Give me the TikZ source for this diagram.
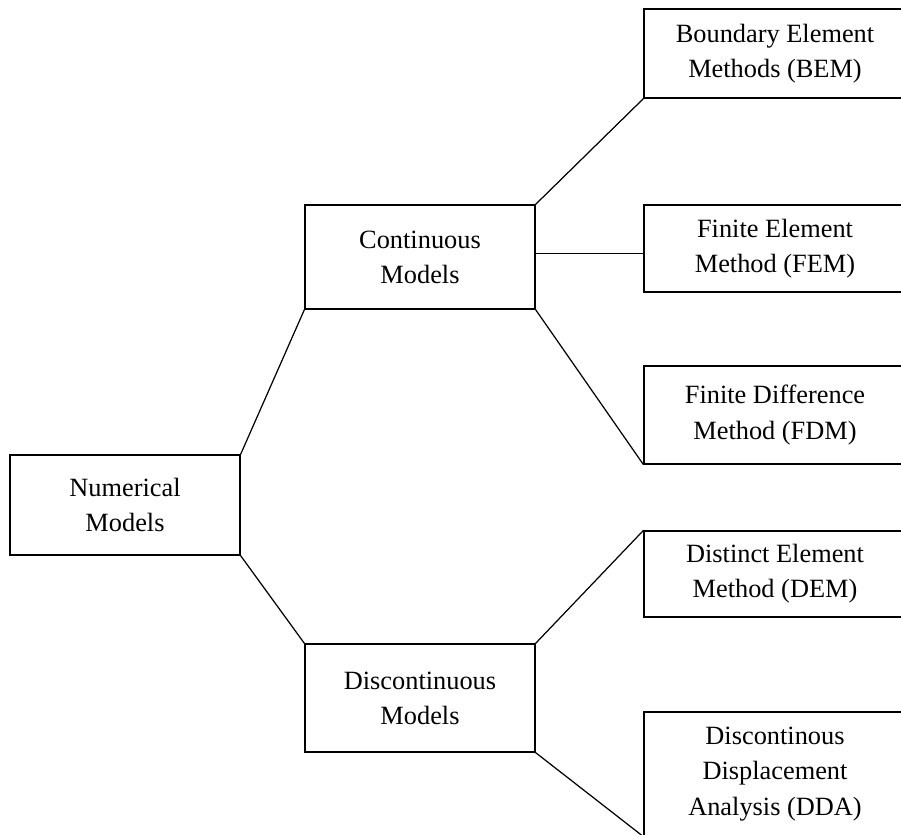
\documentclass[tikz,border=0pt]{standalone}
\usepackage{fontspec}
\setmainfont{Liberation Serif}
\usepackage{tikz}
\usetikzlibrary{calc}

\tikzset{
  model/.style={draw, line width=0.7pt, align=center, inner sep=0pt,
    font=\fontsize{15}{20}\selectfont, minimum width=4.6cm},
  method/.style={model, minimum width=5.24cm},
  link/.style={line width=0.7pt}
}

\begin{document}
\begin{tikzpicture}[x=0.02cm, y=-0.02cm]
    \useasboundingbox (0,0) rectangle (901,834);
    \clip (0,0) rectangle (901,834);
    \node[model, minimum height=2cm] (num) at (125,505) {Numerical\\Models};
    \node[model, minimum height=2.08cm] (cont) at (420,257) {Continuous\\Models};
    \node[model, minimum height=2.16cm] (disc) at (420,698) {Discontinuous\\Models};
    \node[method, minimum height=1.78cm] (bem) at (775,53.5) {Boundary Element\\Methods (BEM)};
    \node[method, minimum height=1.74cm] (fem) at (775,248.5) {Finite Element\\Method (FEM)};
    \node[method, minimum height=1.96cm] (fdm) at (775,415) {Finite Difference\\Method (FDM)};
    \node[method, minimum height=1.72cm] (dem) at (775,574) {Distinct Element\\Method (DEM)};
    \node[method, minimum height=2.48cm] (dda) at (775,774) {Discontinous\\Displacement\\Analysis (DDA)};
    \draw[link] (num.north east) -- (cont.south west);
    \draw[link] (num.south east) -- (disc.north west);
    \draw[link] (cont.north east) -- (bem.south west);
    \coordinate (c1) at ($(cont.north east)!0.465!(cont.south east)$);
    \draw[link] (c1) -- (c1 -| fem.west);
    \draw[link] (cont.south east) -- (fdm.south west);
    \draw[link] (disc.north east) -- (dem.north west);
    \draw[link] (disc.south east) -- (dda.south west);
\end{tikzpicture}
\end{document}
